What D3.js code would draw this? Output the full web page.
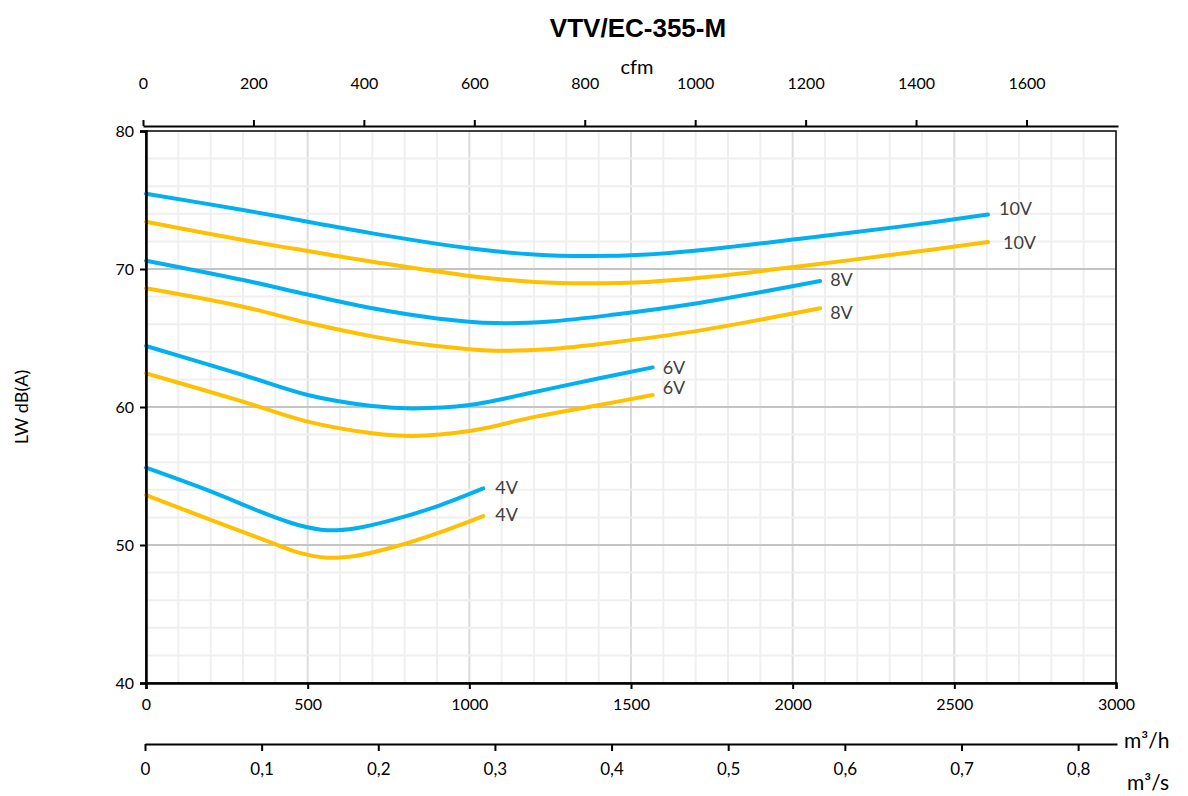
<!DOCTYPE html>
<html><head><meta charset="utf-8">
<script src="https://cdn.jsdelivr.net/npm/d3@7"></script>
<style>
body{margin:0;background:#fff;}
</style></head><body>
<svg id="c" width="1188" height="796" font-family="Lato, 'Open Sans', sans-serif"></svg>
<script>
// ---- data ----
const title = "VTV/EC-355-M";
const yTicks = [40, 50, 60, 70, 80];
const xTicksM3h = [0, 500, 1000, 1500, 2000, 2500, 3000];
const xTicksCfm = [0, 200, 400, 600, 800, 1000, 1200, 1400, 1600];
const xTicksM3s = [0, 0.1, 0.2, 0.3, 0.4, 0.5, 0.6, 0.7, 0.8];
const seriesNames = ["10V", "10V", "8V", "8V", "6V", "6V", "4V", "4V"];
const seriesKinds = ["blue", "yellow", "blue", "yellow", "blue", "yellow", "blue", "yellow"];
const blue10 = [[0,75.45],[300,74.28],[500,73.43],[700,72.58],[1000,71.5],[1200,71.05],[1370,70.94],[1550,71.05],[1750,71.45],[2023,72.2],[2332,73.07],[2604,73.95]];
const yellow10 = [[0,73.43],[300,72.1],[500,71.3],[700,70.53],[1000,69.5],[1200,69.06],[1370,68.96],[1550,69.06],[1750,69.45],[2023,70.2],[2332,71.1],[2604,71.95]];
const blue8 = [[0,70.6],[300,69.2],[500,68.15],[700,67.15],[900,66.42],[1080,66.08],[1250,66.2],[1450,66.7],[1700,67.5],[2085,69.13]];
const yellow8 = [[0,68.6],[300,67.27],[500,66.1],[700,65.12],[900,64.42],[1080,64.08],[1250,64.2],[1450,64.7],[1700,65.5],[2085,67.15]];
const blue6 = [[0,64.42],[300,62.32],[500,60.87],[700,60.07],[825,59.9],[1000,60.14],[1206,61.11],[1402,62.08],[1567,62.87]];
const yellow6 = [[0,62.44],[300,60.39],[500,58.94],[700,58.1],[825,57.9],[1000,58.26],[1206,59.3],[1402,60.14],[1567,60.87]];
const blue4 = [[0,55.6],[188,53.99],[394,52.05],[470,51.45],[560,51.07],[650,51.22],[760,51.8],[900,52.8],[1043,54.1]];
const yellow4 = [[0,53.62],[188,51.93],[394,50.11],[470,49.47],[560,49.08],[650,49.22],[760,49.82],[900,50.85],[1043,52.1]];
const seriesData = [blue10, yellow10, blue8, yellow8, blue6, yellow6, blue4, yellow4];

// ---- layout / style ----
const colors = {blue:"#00b0f0", yellow:"#ffc000"};
const labelDy = [-6, 1, -1, 4, 0, -7, -1, -1];
const labelDx = [11, 15, 10, 10, 10, 10, 12, 12];
const L = 146, R = 1116, T = 131, B = 683;
const FONT = "Lato, 'Open Sans', sans-serif";
const svg = d3.select("#c");

const x = d3.scaleLinear().domain([0, 3000]).range([L, R]);
const y = d3.scaleLinear().domain([40, 80]).range([B, T]);
const xCfm = d3.scaleLinear().domain([0, 3000 / 1.699]).range([143, 1118]);
const xM3s = d3.scaleLinear().domain([0, 3000 / 3600]).range([145, 1117]);

// grid
const g = svg.append("g");
g.selectAll("line.vx").data(d3.range(100, 3000, 100)).join("line")
  .attr("x1", d => x(d)).attr("x2", d => x(d)).attr("y1", T).attr("y2", B)
  .attr("stroke", d => d % 500 === 0 ? "#dcdcdc" : "#efefef").attr("stroke-width", 2);
g.selectAll("line.hy").data(d3.range(42, 80, 2)).join("line")
  .attr("y1", d => y(d)).attr("y2", d => y(d)).attr("x1", L).attr("x2", R)
  .attr("stroke", d => d % 10 === 0 ? "#c4c4c4" : "#efefef").attr("stroke-width", 2);

// frame
svg.append("rect").attr("x", L).attr("y", T).attr("width", R - L).attr("height", B - T)
  .attr("fill", "none").attr("stroke", "#000").attr("stroke-width", 1.5);

// curves
const line = d3.line().x(d => x(d[0])).y(d => y(d[1])).curve(d3.curveCatmullRom.alpha(0.5));
seriesData.forEach((s, i) => {
  svg.append("path").attr("d", line(s)).attr("fill", "none")
    .attr("stroke", colors[seriesKinds[i]]).attr("stroke-width", 4).attr("stroke-linecap", "round");
  const last = s[s.length - 1];
  svg.append("text").attr("x", x(last[0]) + labelDx[i]).attr("y", y(last[1]) + labelDy[i])
    .attr("dy", "0.35em").attr("font-size", 18).attr("fill", "#404040").text(seriesNames[i]);
});

function styleAxis(a, w) {
  a.attr("font-family", FONT);
  a.select(".domain").attr("stroke", "#000").attr("stroke-width", w);
  a.selectAll(".tick line").attr("stroke", "#000").attr("stroke-width", 2);
  a.selectAll("text").attr("font-size", 16).attr("fill", "#000");
}

// left axis
const ya = svg.append("g").attr("transform", `translate(${L},0)`)
  .call(d3.axisLeft(y).tickValues(yTicks).tickSize(6).tickPadding(6));
styleAxis(ya, 2.5);

// bottom m3/h axis
const xa = svg.append("g").attr("transform", `translate(0,${B})`)
  .call(d3.axisBottom(x).tickValues(xTicksM3h).tickSize(6).tickPadding(10).tickFormat(d3.format("d")));
styleAxis(xa, 2.5);

// m3/s axis
const sa = svg.append("g").attr("transform", `translate(0,744)`)
  .call(d3.axisBottom(xM3s).tickValues(xTicksM3s).tickSize(7).tickSizeOuter(0).tickPadding(12)
    .tickFormat(d => d === 0 ? "0" : d3.format(".1f")(d).replace(".", ",")));
styleAxis(sa, 2);
sa.selectAll("text").attr("font-size", 17);

// top cfm axis
const ta = svg.append("g").attr("transform", `translate(0,126)`)
  .call(d3.axisTop(xCfm).tickValues(xTicksCfm).tickSize(6).tickSizeOuter(0).tickPadding(31).tickFormat(d3.format("d")));
styleAxis(ta, 2);

// titles
svg.append("text").attr("x", 638).attr("y", 37).attr("text-anchor", "middle")
  .attr("font-family", "'Liberation Sans', Arial, sans-serif").attr("font-weight", "bold")
  .attr("font-size", 26).text(title);
svg.append("text").attr("x", 637).attr("y", 74).attr("text-anchor", "middle")
  .attr("font-size", 20).text("cfm");
svg.append("text").attr("transform", "translate(28,407) rotate(-90)").attr("text-anchor", "middle")
  .attr("font-size", 18).text("LW dB(A)");
svg.append("text").attr("x", 1124).attr("y", 748).attr("font-size", 21).text("m³/h");
svg.append("text").attr("x", 1127).attr("y", 790).attr("font-size", 21).text("m³/s");
</script>
</body></html>
